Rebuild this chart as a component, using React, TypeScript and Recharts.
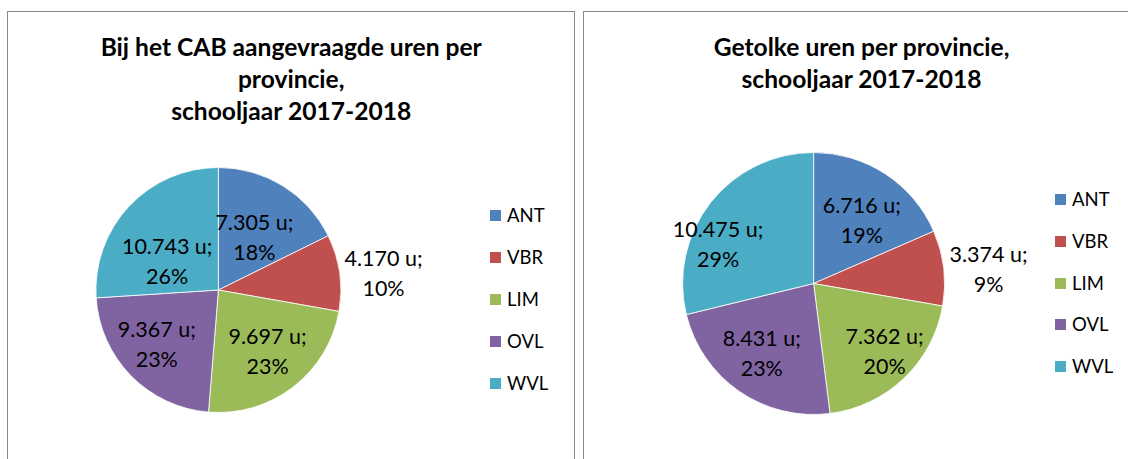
import React from 'react';
import { PieChart, Pie, Cell, Legend } from 'recharts';

const categories = ['ANT', 'VBR', 'LIM', 'OVL', 'WVL'];
const requestedHours = [7305, 4170, 9697, 9367, 10743];
const interpretedHours = [6716, 3374, 7362, 8431, 10475];
const sliceColors = ['#4F81BD', '#C0504D', '#9BBB59', '#8064A2', '#4BACC6'];
const leftTitle = ['Bij het CAB aangevraagde uren per', 'provincie,', 'schooljaar 2017-2018'];
const rightTitle = ['Getolke uren per provincie,', 'schooljaar 2017-2018'];

const FONT = 'Lato, "Open Sans", sans-serif';

function fmt(v: number): string {
  const th = Math.floor(v / 1000);
  const rest = v % 1000;
  return th > 0 ? `${th}.${String(rest).padStart(3, '0')}` : String(rest);
}

function roundedPercents(values: number[]): number[] {
  const total = values.reduce((a, b) => a + b, 0);
  const raw = values.map((v) => (v / total) * 100);
  const fl = raw.map((r) => Math.floor(r));
  let left = 100 - fl.reduce((a, b) => a + b, 0);
  const order = raw.map((r, i) => ({ i, rem: r - Math.floor(r) })).sort((a, b) => b.rem - a.rem);
  for (let k = 0; k < order.length && left > 0; k++, left--) fl[order[k].i] += 1;
  return fl;
}

type PanelCfg = {
  values: number[];
  cx: number;
  cy: number;
  r: number;
  labelRadius: number[];
  labelShift: number[];
  legendLeft: number;
  legendTop: number;
  legendRow: number;
};

const RAD = Math.PI / 180;

function makeLabel(cfg: PanelCfg, pcts: number[]) {
  return (props: any) => {
    const { midAngle, index } = props;
    const ang = (midAngle + cfg.labelShift[index]) * RAD;
    const d = cfg.r * cfg.labelRadius[index];
    const x = cfg.cx + d * Math.cos(ang);
    const y = cfg.cy - d * Math.sin(ang);
    return (
      <text
        x={x}
        y={y}
        textAnchor="middle"
        fontFamily={FONT}
        fontSize={21.5}
        fill="#000"
      >
        <tspan x={x} y={y - 15} dominantBaseline="central">{`${fmt(cfg.values[index])} u;`}</tspan>
        <tspan x={x} y={y + 15} dominantBaseline="central">{`${pcts[index]}%`}</tspan>
      </text>
    );
  };
}

function LegendBox(props: any) {
  const { payload, row } = props;
  const items = [...(payload || [])].sort(
    (a: any, b: any) => categories.indexOf(a.value) - categories.indexOf(b.value)
  );
  return (
    <div style={{ display: 'flex', flexDirection: 'column', fontFamily: FONT }}>
      {items.map((p: any, i: number) => (
        <div key={i} style={{ height: row, display: 'flex', alignItems: 'center' }}>
          <span style={{ width: 11, height: 11, background: p.color, display: 'inline-block', marginRight: 6 }} />
          <span style={{ fontSize: 18.5, color: '#000', lineHeight: '19px' }}>{p.value}</span>
        </div>
      ))}
    </div>
  );
}

function Panel({ cfg }: { cfg: PanelCfg }) {
  const data = categories.map((name, i) => ({ name, value: cfg.values[i] }));
  const pcts = roundedPercents(cfg.values);
  return (
    <div style={{ position: 'absolute', left: 0, top: 0 }}>
      <PieChart width={1128} height={459} margin={{ top: 0, right: 0, bottom: 0, left: 0 }}>
        <Pie
          data={data}
          dataKey="value"
          nameKey="name"
          cx={cfg.cx}
          cy={cfg.cy}
          outerRadius={cfg.r}
          startAngle={90}
          endAngle={-270}
          stroke="#ffffff"
          strokeWidth={0.8}
          isAnimationActive={false}
          labelLine={false}
          label={makeLabel(cfg, pcts)}
        >
          {data.map((d, i) => (
            <Cell key={d.name} fill={sliceColors[i]} />
          ))}
        </Pie>
        <Legend
          layout="vertical"
          align="right"
          verticalAlign="middle"
          wrapperStyle={{ left: cfg.legendLeft, top: cfg.legendTop - cfg.legendRow / 2, right: 'auto', width: 'auto', height: 'auto' }}
          content={(p: any) => <LegendBox payload={p.payload} row={cfg.legendRow} />}
        />
      </PieChart>
    </div>
  );
}

const leftCfg: PanelCfg = {
  values: requestedHours,
  cx: 218.4,
  cy: 290,
  r: 122.5,
  labelRadius: [0.52, 1.355, 0.64, 0.67, 0.48],
  labelShift: [-2.6, -2.2, 1.2, -3.2, 13.7],
  legendLeft: 490,
  legendTop: 216,
  legendRow: 41.8,
};

const rightCfg: PanelCfg = {
  values: interpretedHours,
  cx: 813.6,
  cy: 283.5,
  r: 131,
  labelRadius: [0.61, 1.34, 0.75, 0.66, 0.79],
  labelShift: [-3.85, -2.1, 2.6, -2.3, 15.5],
  legendLeft: 1055,
  legendTop: 200,
  legendRow: 41.6,
};

function Title({ lines, center }: { lines: string[]; center: number }) {
  return (
    <div
      style={{
        position: 'absolute',
        left: center - 300,
        top: 30.5,
        width: 600,
        textAlign: 'center',
        fontFamily: FONT,
        fontWeight: 700,
        fontSize: 24.6,
        lineHeight: '32px',
        color: '#000',
      }}
    >
      {lines.map((l, i) => (
        <div key={i}>{l}</div>
      ))}
    </div>
  );
}

export default function App() {
  return (
    <div
      style={{
        position: 'fixed',
        left: 0,
        top: 0,
        width: 1128,
        height: 459,
        overflow: 'hidden',
        background: '#ffffff',
      }}
    >
      <div style={{ position: 'absolute', left: 7, top: 11, width: 566, height: 480, border: '1.5px solid #8a8a8a' }} />
      <div style={{ position: 'absolute', left: 583, top: 11, width: 560, height: 480, border: '1.5px solid #8a8a8a' }} />
      <Title lines={leftTitle} center={291.2} />
      <Title lines={rightTitle} center={861.6} />
      <Panel cfg={leftCfg} />
      <Panel cfg={rightCfg} />
    </div>
  );
}
